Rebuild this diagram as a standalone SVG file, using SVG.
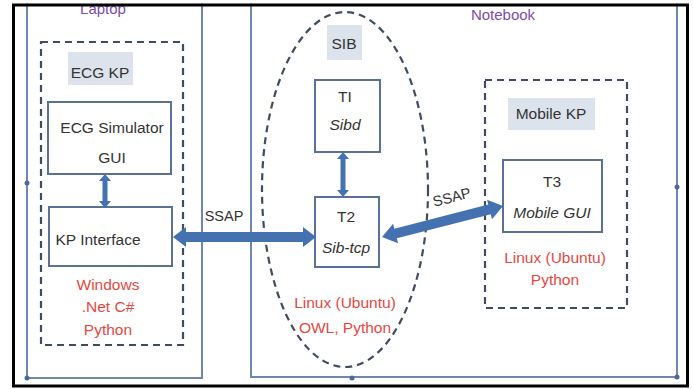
<svg xmlns="http://www.w3.org/2000/svg" width="693" height="389" viewBox="0 0 693 389">
<style>
text{font-family:"Liberation Sans",Arial,sans-serif;font-size:15.5px;fill:#333;text-anchor:middle}
.red{fill:#e4493f}
.it{font-style:italic}
.purple{fill:#7a4ea8;font-size:15px}
.host{fill:none;stroke:#6f86ad;stroke-width:2}
.dash{fill:none;stroke:#3f4c62;stroke-width:2.2;stroke-dasharray:7 5}
.box{fill:#fff;stroke:#5a7094;stroke-width:2}
.lbl{fill:#dde3ec}
.arrow{fill:#4472b0}
.dot{fill:#4a6a9a}
.ssap{font-size:14.5px}
</style>
<rect x="0" y="0" width="693" height="389" fill="#fff"/>

<g id="laptop">
  <path class="host" d="M27,0 V378 H202 V0"/>
  <text class="purple" x="103" y="14">Laptop</text>
  <circle class="dot" cx="27" cy="183" r="2.5"/>
  <circle class="dot" cx="27" cy="378" r="2.5"/>
</g>

<g id="notebook">
  <path class="host" d="M251,0 V377 H677 V0"/>
  <text class="purple" x="503" y="20">Notebook</text>
  <circle class="dot" cx="677" cy="187" r="2.5"/>
  <circle class="dot" cx="677" cy="377" r="2.5"/>
  <circle class="dot" cx="352" cy="378" r="2.5"/>
</g>

<g id="ecg-kp">
  <rect class="dash" x="41" y="42" width="142" height="303"/>
  <rect class="lbl" x="68" y="52" width="65" height="33"/>
  <text x="100" y="78">ECG KP</text>
  <text class="red" x="108" y="290">Windows</text>
  <text class="red" x="108" y="312">.Net C#</text>
  <text class="red" x="108" y="335">Python</text>
</g>

<g id="ecg-sim">
  <rect class="box" x="48" y="102" width="123" height="72"/>
  <text x="112" y="133">ECG Simulator</text>
  <text x="112" y="163">GUI</text>
</g>

<g id="kp-interface">
  <rect class="box" x="49" y="207" width="123" height="59"/>
  <text x="98" y="245">KP Interface</text>
</g>

<g id="sib">
  <ellipse class="dash" cx="345" cy="189.5" rx="83" ry="177.5"/>
  <rect class="lbl" x="327" y="25" width="35" height="35"/>
  <text x="344" y="49">SIB</text>
  <text class="red" x="345" y="308">Linux (Ubuntu)</text>
  <text class="red" x="345" y="333">OWL, Python</text>
</g>

<g id="t1">
  <rect class="box" x="315" y="80" width="65" height="72"/>
  <text x="345" y="102">TI</text>
  <text class="it" x="345" y="130">Sibd</text>
</g>

<g id="t2">
  <rect class="box" x="315" y="197" width="64" height="70"/>
  <text x="346" y="222">T2</text>
  <text class="it" x="346" y="253">Sib-tcp</text>
</g>

<g id="mobile-kp">
  <rect class="dash" x="485" y="80" width="142" height="228"/>
  <rect class="lbl" x="508" y="98" width="87" height="32"/>
  <text x="551" y="119">Mobile KP</text>
  <text class="red" x="555" y="263">Linux (Ubuntu)</text>
  <text class="red" x="555" y="285">Python</text>
</g>

<g id="t3">
  <rect class="box" x="503" y="160" width="99" height="72"/>
  <text x="552" y="187">T3</text>
  <text class="it" x="552" y="218">Mobile GUI</text>
</g>

<g id="connectors">
  <polygon class="arrow" points="105,174 111,181 107.5,181 107.5,201 111,201 105,208 99,201 102.5,201 102.5,181 99,181"/>
  <polygon class="arrow" points="343,152 349,159 345.5,159 345.5,190 349,190 343,197 337,190 340.5,190 340.5,159 337,159"/>
  <polygon class="arrow" points="173,237 186,227 186,232 303,232 303,227 316,237 303,247 303,242 186,242 186,247"/>
  <text class="ssap" x="224" y="221">SSAP</text>
  <polygon class="arrow" transform="translate(382,237) rotate(-14.37)" points="0,0 14,-10 14,-5 111,-5 111,-10 125,0 111,10 111,5 14,5 14,10"/>
  <text class="ssap" x="453" y="202" transform="rotate(-14.37 453 202)">SSAP</text>
</g>

<rect x="0" y="0" width="693" height="3.5" fill="#fff"/>
<rect x="13.5" y="5" width="674" height="381" fill="none" stroke="#000" stroke-width="3"/>
</svg>
